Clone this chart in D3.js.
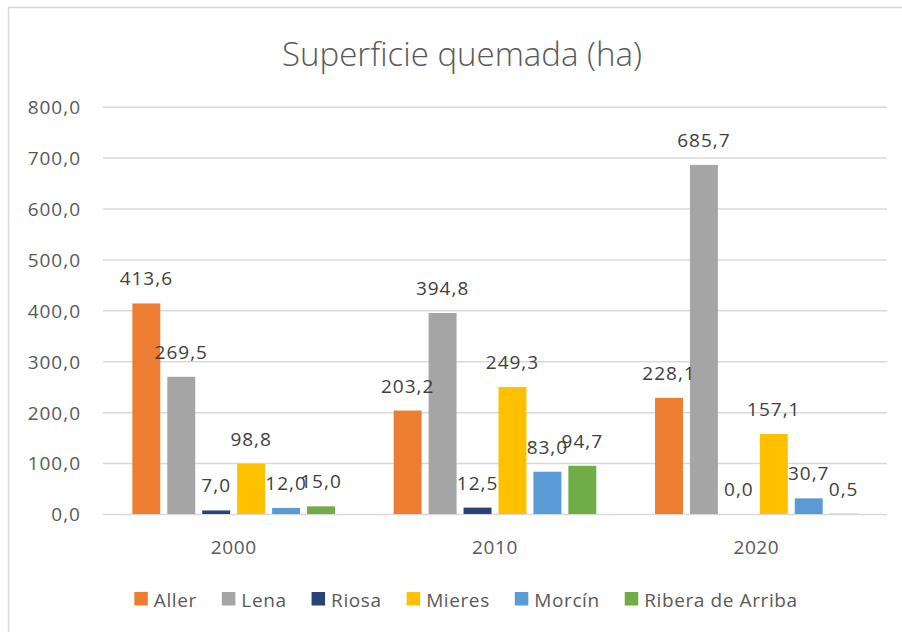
<!DOCTYPE html>
<html><head><meta charset="utf-8">
<script src="https://cdn.jsdelivr.net/npm/d3@7"></script>
<style>
html,body{margin:0;padding:0;background:#fff;}
svg{display:block;font-family:"Open Sans",sans-serif;}
</style></head>
<body>
<svg id="chart" width="902" height="632"></svg>
<script>
const title = "Superficie quemada (ha)";
const categories = ["2000", "2010", "2020"];
const seriesNames = ["Aller", "Lena", "Riosa", "Mieres", "Morcín", "Ribera de Arriba"];
const seriesColors = ["#ED7D31", "#A5A5A5", "#264478", "#FFC000", "#5B9BD5", "#70AD47"];
const aller  = [413.6, 203.2, 228.1];
const lena   = [269.5, 394.8, 685.7];
const riosa  = [7.0, 12.5, 0.0];
const mieres = [98.8, 249.3, 157.1];
const morcin = [12.0, 83.0, 30.7];
const ribera = [15.0, 94.7, 0.5];
const yTicks = [0, 100, 200, 300, 400, 500, 600, 700, 800];

const seriesValues = [aller, lena, riosa, mieres, morcin, ribera];
const fmt = v => v.toFixed(1).replace(".", ",");

const svg = d3.select("#chart");
const plot = {left: 103, right: 887, top: 106.7, bottom: 514};

// chart border
svg.append("rect").attr("x", 8.5).attr("y", 7.5).attr("width", 1000).attr("height", 1000)
  .attr("fill", "none").attr("stroke", "#d9d9d9").attr("stroke-width", 1.5);

// title
svg.append("text").attr("x", 462).attr("y", 66).attr("text-anchor", "middle")
  .attr("font-size", 33).attr("font-weight", 300).attr("fill", "#595959").text(title);

const y = d3.scaleLinear().domain([0, 800]).range([plot.bottom, plot.top]);
const x0 = d3.scaleBand().domain(categories).range([plot.left, plot.right]).padding(0);
const x1 = d3.scaleBand().domain(seriesNames).range([0, x0.bandwidth()])
  .paddingInner(0.2).paddingOuter(0.84);

// gridlines + y labels via axis
const yAxis = d3.axisLeft(y).tickValues(yTicks).tickFormat(fmt)
  .tickSize(-(plot.right - plot.left)).tickPadding(22);
const gy = svg.append("g").attr("transform", `translate(${plot.left},0)`).call(yAxis);
gy.select(".domain").remove();
gy.selectAll(".tick line").attr("stroke", "#d9d9d9").attr("stroke-width", 1.5);
gy.selectAll(".tick text").attr("font-size", 19).attr("fill", "#595959")
  .attr("font-family", "Open Sans, sans-serif").attr("letter-spacing", 1).attr("dy", "0.36em");

// x axis labels
const xAxis = d3.axisBottom(x0).tickSize(0).tickPadding(0);
const gx = svg.append("g").attr("transform", `translate(0,${plot.bottom})`).call(xAxis);
gx.select(".domain").remove();
gx.selectAll(".tick text").attr("font-size", 19).attr("fill", "#595959")
  .attr("font-family", "Open Sans, sans-serif").attr("dy", 0).attr("y", 40).attr("letter-spacing", 0.6);

// bars
const groups = svg.append("g").selectAll("g").data(categories).join("g")
  .attr("transform", d => `translate(${x0(d)},0)`);
groups.each(function(cat, ci) {
  const g = d3.select(this);
  const data = seriesNames.map((s, si) => ({s, si, v: seriesValues[si][ci]}));
  g.selectAll("rect").data(data).join("rect")
    .attr("x", d => x1(d.s)).attr("width", x1.bandwidth())
    .attr("y", d => y(d.v)).attr("height", d => y(0) - y(d.v))
    .attr("fill", d => seriesColors[d.si]);
  g.selectAll("text").data(data).join("text")
    .attr("x", d => x1(d.s) + x1.bandwidth() / 2).attr("y", d => y(d.v) - 18)
    .attr("text-anchor", "middle").attr("font-size", 19).attr("letter-spacing", 1)
    .attr("fill", "#404040").text(d => fmt(d.v));
});

// legend
const legend = svg.append("g");
let lx = 0;
seriesNames.forEach((s, i) => {
  const item = legend.append("g").attr("transform", `translate(${lx},0)`);
  item.append("rect").attr("x", 0).attr("y", 592).attr("width", 13.5).attr("height", 13.5)
    .attr("fill", seriesColors[i]);
  const t = item.append("text").attr("x", 19.5).attr("y", 606.5).attr("font-size", 19)
    .attr("letter-spacing", 0.6).attr("fill", "#595959").text(s);
  lx += 19.5 + t.node().getComputedTextLength() + 25;
});
const legendWidth = lx - 25;
legend.attr("transform", `translate(${466 - legendWidth / 2},0)`);
</script>
</body></html>
